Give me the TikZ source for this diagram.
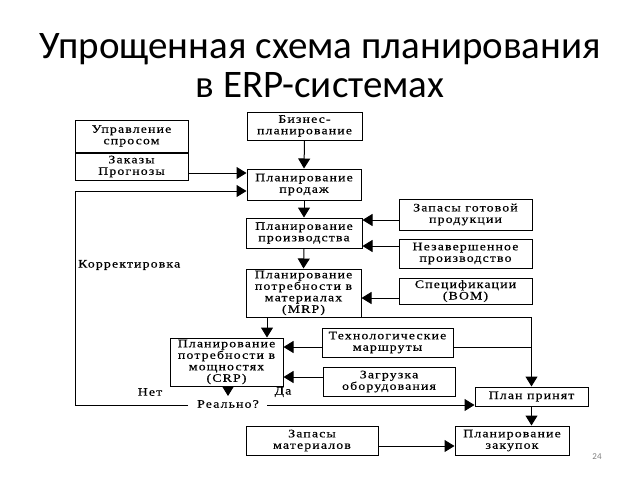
\documentclass[tikz,border=0pt]{standalone}
\usepackage{fontspec}
\setmainfont{Liberation Serif}
\newfontfamily\titlefont{Carlito}
\newfontfamily\boxfont[FakeStretch=1.2,LetterSpace=10,FakeBold=0.4]{Liberation Serif}
\usetikzlibrary{arrows.meta}
\begin{document}
\begin{tikzpicture}[x=1pt,y=-1pt,
  bx/.style={draw,line width=1pt,inner sep=0pt,align=center,font=\boxfont\fontsize{11.5}{11.5}\selectfont,minimum width=#1},
  arr/.style={line width=1pt,-{Triangle[width=12pt,length=10pt]}},
  ln/.style={line width=1pt},
  lbl/.style={font=\boxfont\fontsize{11.5}{11.5}\selectfont,inner sep=0pt},
  ttl/.style={font=\titlefont\fontsize{39}{40}\selectfont,anchor=base,inner sep=0pt}]
\useasboundingbox[fill=white] (0,0) rectangle (640,480);
\node[ttl] (title1) at (320,58) {Упрощенная схема планирования};
\node[ttl] (title2) at (320,97) {в ERP-системах};
% boxes
\node[bx=113pt,minimum height=32pt] (dem1) at (131.5,136) {Управление\\спросом};
\node[bx=113pt,minimum height=27pt,anchor=north] (dem2) at (dem1.south) {Заказы\\Прогнозы};
\node[bx=115pt,minimum height=28pt] (biz) at (304.5,126) {Бизнес-\\планирование};
\node[bx=114pt,minimum height=31pt] (sales) at (304,184.5) {Планирование\\продаж};
\node[bx=116pt,minimum height=30pt] (prod) at (304,233) {Планирование\\производства};
\node[bx=115pt,minimum height=48pt] (mrp) at (303.5,293) {Планирование\\потребности в\\материалах\\(MRP)};
\node[bx=113pt,minimum height=48pt] (crp) at (226.5,362) {Планирование\\потребности в\\мощностях\\(CRP)};
\node[bx=133pt,minimum height=31pt] (stock) at (465.5,214.5) {Запасы готовой\\продукции};
\node[bx=133pt,minimum height=29pt] (wip) at (465.5,253.5) {Незавершенное\\производство};
\node[bx=133pt,minimum height=26pt] (bom) at (465.5,291) {Спецификации\\(BOM)};
\node[bx=131pt,minimum height=29pt] (tech) at (387.5,342.5) {Технологические\\маршруты};
\node[bx=132pt,minimum height=29pt] (load) at (389,381.5) {Загрузка\\оборудования};
\node[bx=113pt,minimum height=19pt] (plan) at (531.5,396.5) {План принят};
\node[bx=132pt,minimum height=29pt] (mat) at (312,440.5) {Запасы\\материалов};
\node[bx=114pt,minimum height=29pt] (purch) at (512,440.5) {Планирование\\закупок};
% labels
\node[lbl,anchor=west] (korr) at (78,265) {Корректировка};
\node[lbl] (net) at (150,392) {Нет};
\node[lbl] (da) at (283,392) {Да};
\node[lbl] (real) at (228,404) {Реально?};
\node[font=\titlefont\fontsize{9}{10}\selectfont,text=gray] (pg) at (597,457) {24};
\coordinate (rl) at (188,405);
\coordinate (rr) at (267,405);
\coordinate (lc) at (75,405);
% connectors
\draw[arr] (biz.south) -- (sales.north);
\draw[arr] (dem2.east |- 0,173) -- (sales.west |- 0,173);
\draw[arr] (rl) -- (lc) -- (lc |- 0,191) -- (sales.west |- 0,191);
\draw[arr] (sales.south) -- (prod.north);
\draw[arr] (stock.west |- 0,220) -- (prod.east |- 0,220);
\draw[arr] (wip.west |- 0,246) -- (prod.east |- 0,246);
\draw[arr] (prod.south) -- (mrp.north);
\draw[arr] (bom.west |- 0,298) -- (mrp.east |- 0,298);
\draw[arr] (mrp.south -| 267,0) -- (crp.north -| 267,0);
\draw[arr] (mrp.south east) -- (plan.north |- mrp.south) -- (plan.north);
\draw[ln] (tech.east |- 0,347) -- (plan.north |- 0,347);
\draw[arr] (tech.west |- 0,347) -- (crp.east |- 0,347);
\draw[arr] (load.west |- 0,377) -- (crp.east |- 0,377);
\draw[arr] (crp.south -| 228,0) -- (228,396);
\draw[arr] (rr) -- (plan.west |- rr);
\draw[arr] (plan.south) -- (purch.north -| plan.south);
\draw[arr] (mat.east |- 0,446) -- (purch.west |- 0,446);
\end{tikzpicture}
\end{document}
